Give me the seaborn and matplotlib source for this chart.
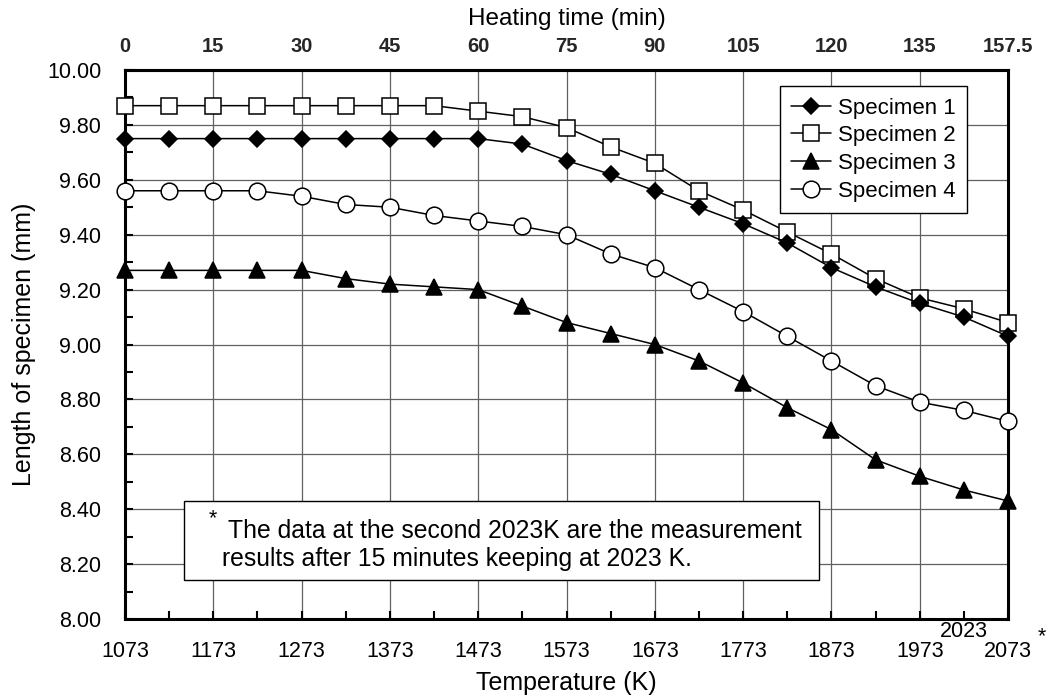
import numpy as np
import pandas as pd
import matplotlib.pyplot as plt
import seaborn as sns
from matplotlib.patches import Rectangle
from matplotlib.ticker import MultipleLocator, FormatStrFormatter
from matplotlib.lines import Line2D

# dados (o ultimo ponto e o segundo 2023 K, apos 15 min)
temperatura_K = [1073, 1123, 1173, 1223, 1273, 1323, 1373, 1423, 1473, 1523, 1573,
                 1623, 1673, 1723, 1773, 1823, 1873, 1923, 1973, 2023, 2023]
tempo_min = [0, 7.5, 15, 22.5, 30, 37.5, 45, 52.5, 60, 67.5, 75,
             82.5, 90, 97.5, 105, 112.5, 120, 127.5, 135, 142.5, 157.5]
especime_1 = [9.75, 9.75, 9.75, 9.75, 9.75, 9.75, 9.75, 9.75, 9.75, 9.73, 9.67,
              9.62, 9.56, 9.50, 9.44, 9.37, 9.28, 9.21, 9.15, 9.10, 9.03]
especime_2 = [9.87, 9.87, 9.87, 9.87, 9.87, 9.87, 9.87, 9.87, 9.85, 9.83, 9.79,
              9.72, 9.66, 9.56, 9.49, 9.41, 9.33, 9.24, 9.17, 9.13, 9.08]
especime_3 = [9.27, 9.27, 9.27, 9.27, 9.27, 9.24, 9.22, 9.21, 9.20, 9.14, 9.08,
              9.04, 9.00, 8.94, 8.86, 8.77, 8.69, 8.58, 8.52, 8.47, 8.43]
especime_4 = [9.56, 9.56, 9.56, 9.56, 9.54, 9.51, 9.50, 9.47, 9.45, 9.43, 9.40,
              9.33, 9.28, 9.20, 9.12, 9.03, 8.94, 8.85, 8.79, 8.76, 8.72]
rotulos_temp = ['1073', '1173', '1273', '1373', '1473', '1573', '1673', '1773', '1873', '1973', '2073']
nomes = ['Specimen 1', 'Specimen 2', 'Specimen 3', 'Specimen 4']

sns.set_theme(style="white")
plt.rcParams['font.family'] = ['Liberation Sans', 'DejaVu Sans']
plt.rcParams['text.color'] = 'black'
plt.rcParams['axes.labelcolor'] = 'black'

posicao = np.arange(len(temperatura_K))
df = pd.DataFrame({'pos': posicao, 'Specimen 1': especime_1, 'Specimen 2': especime_2,
                   'Specimen 3': especime_3, 'Specimen 4': especime_4})

fig = plt.figure(figsize=(10.52, 6.99), dpi=100)
ax = fig.add_axes([0.1188, 0.1144, 0.8394, 0.7855])

estilos = {
    'Specimen 1': dict(marker='D', markersize=8, markerfacecolor='black'),
    'Specimen 2': dict(marker='s', markersize=11.5, markerfacecolor='white'),
    'Specimen 3': dict(marker='^', markersize=11.5, markerfacecolor='black'),
    'Specimen 4': dict(marker='o', markersize=12, markerfacecolor='white'),
}
ordem = {'Specimen 1': 5, 'Specimen 2': 4, 'Specimen 3': 4, 'Specimen 4': 4}
for nome in nomes:
    sns.lineplot(data=df, x='pos', y=nome, ax=ax, color='black', linewidth=1.1,
                 markeredgecolor='black', markeredgewidth=1.1, clip_on=False,
                 zorder=ordem[nome], legend=False, **estilos[nome])

ax.set_xlim(0, len(posicao) - 1)
ax.set_ylim(8.0, 10.0)

# eixo inferior: temperatura
ticks_inf = list(range(0, 19, 2)) + [20]
ax.set_xticks(ticks_inf)
ax.set_xticklabels(rotulos_temp[:10] + ['2073'])
ax.xaxis.set_minor_locator(MultipleLocator(1))
ax.yaxis.set_major_locator(MultipleLocator(0.2))
ax.yaxis.set_minor_locator(MultipleLocator(0.1))
ax.yaxis.set_major_formatter(FormatStrFormatter('%.2f'))
ax.tick_params(axis='both', which='both', direction='in', length=6, width=1.5,
               color='black', labelsize=15.5, labelcolor='black')
ax.tick_params(axis='x', which='both', pad=16, top=False, bottom=True)
ax.tick_params(axis='y', which='both', pad=17, left=True, right=False)
ax.grid(True, which='major', color='#606060', linewidth=0.9)
ax.set_axisbelow(True)
for lado in ax.spines.values():
    lado.set_color('black')
    lado.set_linewidth(2.2)

ax.text(19, -0.022, str(temperatura_K[19]), transform=ax.get_xaxis_transform(),
        ha='center', va='center', fontsize=15.5)
ax.text(1.038, -0.033, '*', transform=ax.transAxes, ha='center', va='center', fontsize=15.5)

ax.set_xlabel('Temperature (K)', fontsize=18, labelpad=6)
ax.set_ylabel('Length of specimen (mm)', fontsize=18, labelpad=8)

# eixo superior: tempo de aquecimento
topo = ax.secondary_xaxis('top')
topo.set_xticks(ticks_inf)
topo.set_xticklabels(['{:g}'.format(tempo_min[i]) for i in ticks_inf])
topo.tick_params(length=0, pad=10)
for rot in topo.get_xticklabels():
    rot.set_fontweight('bold')
    rot.set_fontsize(14.5)
topo.set_xlabel('Heating time (min)', fontsize=17.5, labelpad=9)
topo.spines['top'].set_linewidth(2.2)

# legenda
alcas = [Line2D([], [], color='black', linewidth=1.1, markeredgecolor='black',
                markeredgewidth=1.1, **estilos[n]) for n in nomes]
leg = ax.legend(alcas, nomes, loc='upper right', bbox_to_anchor=(0.953, 0.97),
                borderaxespad=0, fontsize=16, frameon=True, fancybox=False,
                edgecolor='black', framealpha=1, handlelength=1.8, handletextpad=0.3,
                labelspacing=0.3, borderpad=0.5)
leg.get_frame().set_linewidth(1.0)
leg.set_zorder(10)

# caixa da nota
ax.add_patch(Rectangle((0.0668, 0.071), 0.7192, 0.1445, transform=ax.transAxes,
                       facecolor='white', edgecolor='black', linewidth=1.0, zorder=6))
ax.text(0.0997, 0.183, '*', transform=ax.transAxes, ha='center', va='center',
        fontsize=15.5, zorder=7)
ax.text(0.1166, 0.160, 'The data at the second 2023K are the measurement',
        transform=ax.transAxes, ha='left', va='center', fontsize=17.8, zorder=7)
ax.text(0.1098, 0.109, 'results after 15 minutes keeping at 2023 K.',
        transform=ax.transAxes, ha='left', va='center', fontsize=17.8, zorder=7)

plt.savefig("out.png", dpi=100)
plt.close()
